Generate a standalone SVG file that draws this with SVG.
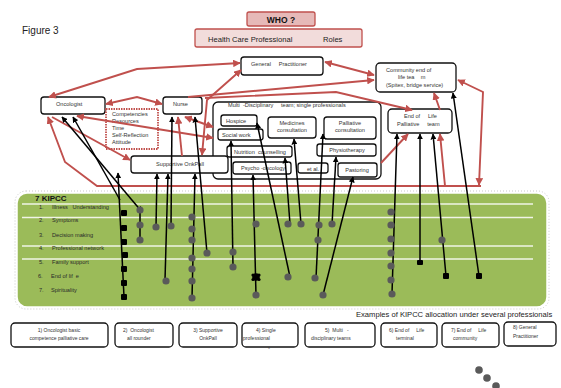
<svg xmlns="http://www.w3.org/2000/svg" width="561" height="388" viewBox="0 0 561 388">
<style>
text{font-family:"Liberation Sans",Arial,sans-serif;fill:#333;white-space:pre}
.s{font-size:5.6px}
.k{font-size:5.6px;fill:#2a2a2a}
.b{fill:#fff;stroke:#111;stroke-width:1.3}
.r{fill:none;stroke:#c0504d;stroke-width:1.9}
.l{fill:none;stroke:#000;stroke-width:1.5}
.d{fill:#5a5a5a}
.q{fill:#000}
.wl{stroke:#fff;stroke-width:1.3;opacity:.85}
</style>
<defs>
<marker id="ra" viewBox="0 0 10 10" refX="9" refY="5" markerWidth="4" markerHeight="4" orient="auto-start-reverse"><path d="M0,0L10,5L0,10z" fill="#c0504d"/></marker>
<marker id="ba" viewBox="0 0 10 10" refX="9" refY="5" markerWidth="4" markerHeight="4" orient="auto-start-reverse"><path d="M0,0L10,5L0,10z" fill="#000"/></marker>
</defs>
<rect width="561" height="388" fill="#fff"/>
<text x="22" y="34" style="font-size:10px;fill:#222">Figure 3</text>

<g id="who"><rect x="247" y="12" width="68" height="14" rx="2" fill="#e6b9b8" stroke="#c0504d" stroke-width="1.3"/><text x="281" y="23" text-anchor="middle" style="font-size:8.5px;font-weight:bold;fill:#111">WHO ?</text></g>
<g id="hcp"><rect x="195" y="29" width="167" height="18" rx="2" fill="#f2dcdb" stroke="#c0504d" stroke-width="1.3"/><text x="208" y="41.5" style="font-size:7.6px;fill:#222">Health Care Professional</text><text x="323" y="41.5" style="font-size:7.6px;fill:#222">Roles</text></g>

<g id="kipcc">
<rect x="15" y="191" width="534" height="118" rx="11" fill="none" stroke="#bbb" stroke-width="0.8" stroke-dasharray="1,2"/>
<rect x="17" y="193" width="530" height="114" rx="10" fill="#9bbb59" stroke="#fff" stroke-width="1.5"/>
<line class="wl" x1="22" y1="204" x2="533" y2="204"/>
<line class="wl" x1="22" y1="217.5" x2="533" y2="217.5"/>
<line class="wl" x1="22" y1="246" x2="533" y2="246"/>
<line class="wl" x1="22" y1="259" x2="533" y2="259"/>
<text x="35" y="201" style="font-size:8px;font-weight:bold;fill:#111">7 KIPCC</text>
<text class="k" x="39" y="209">1.</text><text class="k" x="52" y="209">Illness   Understanding</text>
<text class="k" x="39" y="222">2.</text><text class="k" x="52" y="222">Symptoms</text>
<text class="k" x="39" y="237">3.</text><text class="k" x="52" y="237">Decision making</text>
<text class="k" x="39" y="250">4.</text><text class="k" x="52" y="250">Professional network</text>
<text class="k" x="39" y="264">5.</text><text class="k" x="52" y="264">Family support</text>
<text class="k" x="38" y="278">6.</text><text class="k" x="51" y="278">End of lif  e</text>
<text class="k" x="39" y="292">7.</text><text class="k" x="51" y="292">Spirituality</text>
</g>

<g id="gp"><rect class="b" x="241" y="57" width="82" height="18" rx="3"/><text class="s" x="251" y="66">General     Practitioner</text></g>
<g id="community"><rect class="b" x="376" y="63" width="80" height="29" rx="4"/><text class="s" x="386" y="72">Community end of</text><text class="s" x="398" y="79">life tea    m</text><text class="s" x="386" y="87">(Spitex, bridge service)</text></g>
<g id="oncologist"><rect class="b" x="41" y="97" width="64" height="17" rx="3"/><text class="s" x="56" y="106">Oncologist</text></g>
<g id="competencies"><rect x="106" y="109" width="52" height="40" fill="none" stroke="#c0504d" stroke-width="1.8" stroke-dasharray="1.5,1"/><text class="s" x="112" y="116">Competencies</text><text class="s" x="112" y="123">Resources</text><text class="s" x="112" y="129.5">Time</text><text class="s" x="112" y="137">Self-Reflection</text><text class="s" x="112" y="143.5">Attitude</text></g>
<g id="nurse"><rect class="b" x="163" y="97" width="39" height="17" rx="3"/><text class="s" x="173" y="106">Nurse</text></g>
<g id="multi"><rect class="b" x="213" y="102" width="168" height="77" rx="5"/><text class="s" x="228" y="107">Multi  -Disciplinary</text><text class="s" x="281" y="107">team; single professionals</text></g>
<g id="hospice"><rect class="b" x="221" y="115" width="36" height="11" rx="2.5"/><text class="s" x="226" y="123">Hospice</text></g>
<g id="socialwork"><rect class="b" x="218" y="129" width="45" height="11" rx="2.5"/><text class="s" x="222" y="137">Social work</text></g>
<g id="medicines"><rect class="b" x="268" y="117" width="48" height="21" rx="3"/><text class="s" x="292" y="124.5" text-anchor="middle">Medicines</text><text class="s" x="292" y="131.5" text-anchor="middle">consultation</text></g>
<g id="palliative"><rect class="b" x="324" y="117" width="52" height="22" rx="3"/><text class="s" x="350" y="124.5" text-anchor="middle">Palliative</text><text class="s" x="350" y="131.5" text-anchor="middle">consultation</text></g>
<g id="nutrition"><rect class="b" x="227" y="146" width="65" height="11" rx="2.5"/><text class="s" x="234" y="154">Nutrition  counselling</text></g>
<g id="physio"><rect class="b" x="317" y="144" width="59" height="12" rx="2.5"/><text class="s" x="347" y="152" text-anchor="middle">Physiotherapy</text></g>
<g id="psycho"><rect class="b" x="233" y="162" width="58" height="12" rx="2.5"/><text class="s" x="241" y="170">Psycho -oncology</text></g>
<g id="etal"><rect class="b" x="298" y="163" width="30" height="10" rx="2.5"/><text class="s" x="313" y="170.5" text-anchor="middle">et al.</text></g>
<g id="pastoring"><rect class="b" x="338" y="163" width="39" height="14" rx="2.5"/><text class="s" x="357" y="172" text-anchor="middle">Pastoring</text></g>
<g id="supportive"><rect class="b" x="131" y="156" width="97" height="17" rx="3"/><text class="s" x="180" y="166" text-anchor="middle">Supportive OnkPall</text></g>
<g id="endoflife"><rect class="b" x="388" y="109" width="64" height="24" rx="4"/><text class="s" x="404" y="118">End of     Life</text><text class="s" x="397" y="126">Palliative     team</text></g>

<g id="connectors">
<g class="r">
<polyline points="49,97 137,69 240,63" marker-start="url(#ra)" marker-end="url(#ra)"/>
<polyline points="106,104 137,97 162,104" marker-start="url(#ra)" marker-end="url(#ra)"/>
<polyline points="202,155 207,100 241,70" marker-start="url(#ra)" marker-end="url(#ra)"/>
<line x1="325" y1="62" x2="374" y2="75" marker-start="url(#ra)" marker-end="url(#ra)"/>
<line x1="188" y1="97" x2="374" y2="80" marker-end="url(#ra)"/>
<polyline points="205,98 336,92 412,110" marker-end="url(#ra)"/>
<line x1="440" y1="110" x2="434" y2="93" marker-end="url(#ra)"/>
<polyline points="458,80 483,92 479,185" marker-start="url(#ra)" marker-end="url(#ra)"/>
<polyline points="481,186 97,186 65,162 48,117" marker-end="url(#ra)"/>
<line x1="52" y1="117" x2="130" y2="160" marker-end="url(#ra)"/>
<line x1="77" y1="116" x2="213" y2="138" marker-start="url(#ra)" marker-end="url(#ra)"/>
<line x1="185" y1="117" x2="213" y2="127" marker-start="url(#ra)" marker-end="url(#ra)"/>
<line x1="182" y1="156" x2="178" y2="117" marker-end="url(#ra)"/>
<line x1="381" y1="163" x2="408" y2="134" marker-end="url(#ra)"/>
<line x1="445" y1="186" x2="440" y2="134" marker-end="url(#ra)"/>
</g>
<g class="l">
<line x1="142" y1="212" x2="62" y2="117" marker-start="url(#ba)" marker-end="url(#ba)"/>
<line x1="120" y1="200" x2="73" y2="117" marker-end="url(#ba)"/>
<line x1="124" y1="297" x2="118" y2="173" marker-end="url(#ba)"/>
<line x1="140" y1="212" x2="140" y2="240"/>
<line x1="156" y1="227" x2="157" y2="174" marker-end="url(#ba)"/>
<line x1="165" y1="280" x2="168" y2="174" marker-end="url(#ba)"/>
<line x1="171" y1="226" x2="172" y2="117" marker-end="url(#ba)"/>
<line x1="192" y1="298" x2="195" y2="174" marker-end="url(#ba)"/>
<line x1="207" y1="253" x2="195" y2="117" marker-end="url(#ba)"/>
<line x1="233" y1="267" x2="231" y2="141" marker-end="url(#ba)"/>
<line x1="256" y1="295" x2="253" y2="175" marker-end="url(#ba)"/>
<line x1="290" y1="277" x2="257" y2="123" marker-end="url(#ba)"/>
<line x1="290" y1="224" x2="285" y2="158" marker-end="url(#ba)"/>
<line x1="301" y1="224" x2="294" y2="139" marker-end="url(#ba)"/>
<line x1="316" y1="278" x2="323" y2="134" marker-end="url(#ba)"/>
<line x1="332" y1="224" x2="336" y2="157" marker-end="url(#ba)"/>
<line x1="323" y1="295" x2="353" y2="177" marker-end="url(#ba)"/>
<line x1="392" y1="294" x2="397" y2="134" marker-end="url(#ba)"/>
<line x1="420" y1="263" x2="420" y2="134" marker-end="url(#ba)"/>
<line x1="446" y1="276" x2="433" y2="134" marker-end="url(#ba)"/>
<line x1="479" y1="276" x2="453" y2="93" marker-end="url(#ba)"/>
</g>
</g>

<g id="dots">
<g class="d">
<circle cx="140" cy="210" r="3.6"/><circle cx="140" cy="225" r="3.6"/><circle cx="140" cy="240" r="3.6"/>
<circle cx="156" cy="227" r="3.6"/><circle cx="171" cy="226" r="3.6"/><circle cx="166" cy="281" r="3.6"/>
<circle cx="192" cy="217" r="3.6"/><circle cx="192" cy="229" r="3.6"/><circle cx="192" cy="240" r="3.6"/><circle cx="192" cy="258" r="3.6"/><circle cx="192" cy="269" r="3.6"/><circle cx="192" cy="281" r="3.6"/><circle cx="192" cy="298" r="3.6"/>
<circle cx="207" cy="253" r="3.6"/><circle cx="233" cy="252" r="3.6"/><circle cx="233" cy="267" r="3.6"/>
<circle cx="256" cy="224" r="3.6"/><circle cx="256" cy="295" r="3.6"/>
<circle cx="288" cy="277" r="3.6"/><circle cx="288" cy="224" r="3.6"/><circle cx="301" cy="224" r="3.6"/>
<circle cx="319" cy="225" r="3.6"/><circle cx="318" cy="240" r="3.6"/><circle cx="332" cy="224" r="3.6"/>
<circle cx="315" cy="278" r="3.6"/><circle cx="323" cy="295" r="3.6"/>
<circle cx="391" cy="212" r="3.6"/><circle cx="391" cy="225" r="3.6"/><circle cx="391" cy="239" r="3.6"/><circle cx="391" cy="253" r="3.6"/><circle cx="391" cy="266" r="3.6"/><circle cx="391" cy="280" r="3.6"/><circle cx="392" cy="294" r="3.6"/>
<circle cx="442" cy="240" r="3.6"/>
</g>
<g class="q">
<rect x="121" y="210" width="6" height="6" rx="1"/><rect x="121" y="225" width="6" height="6" rx="1"/><rect x="121" y="239" width="6" height="6" rx="1"/><rect x="122" y="252" width="6" height="6" rx="1"/><rect x="121" y="266" width="6" height="6" rx="1"/><rect x="121" y="280" width="6" height="6" rx="1"/><rect x="121" y="294" width="6" height="6" rx="1"/>
<rect x="417" y="260" width="6" height="5" rx="1"/><rect x="443" y="273" width="6" height="6" rx="1"/><rect x="476" y="273" width="6" height="6" rx="1"/>
<circle cx="256" cy="277" r="3.8"/><circle cx="253" cy="275" r="1.6"/><circle cx="259" cy="275" r="1.6"/><circle cx="253" cy="279.5" r="1.6"/><circle cx="259" cy="279.5" r="1.6"/>
</g>
</g>

<text x="356" y="317" style="font-size:7.6px;fill:#222">Examples of KIPCC allocation under several professionals</text>

<g id="ex1"><rect class="b" x="11" y="323" width="97" height="24" rx="4"/><text class="s" x="59" y="331.5" text-anchor="middle" style="font-size:5px">1) Oncologist basic</text><text class="s" x="59" y="340" text-anchor="middle" style="font-size:5px">competence palliative care</text></g>
<g id="ex2"><rect class="b" x="115" y="323" width="58" height="24" rx="4"/><text class="s" x="123" y="331.5" style="font-size:5px">2)  Oncologist</text><text class="s" x="127" y="340" style="font-size:5px">all rounder</text></g>
<g id="ex3"><rect class="b" x="179" y="323" width="58" height="24" rx="4"/><text class="s" x="208" y="331.5" text-anchor="middle" style="font-size:5px">3) Supportive</text><text class="s" x="208" y="340" text-anchor="middle" style="font-size:5px">OnkPall</text></g>
<g id="ex4"><rect class="b" x="242" y="323" width="56" height="24" rx="4"/><text class="s" x="256" y="331.5" style="font-size:5px">4) Single</text><text class="s" x="243" y="340" style="font-size:5px">professional</text><text class="s" x="268" y="349" style="font-size:3.5px">s</text></g>
<g id="ex5"><rect class="b" x="305" y="323" width="70" height="24" rx="4"/><text class="s" x="325" y="331.5" style="font-size:5px">5)  Multi   -</text><text class="s" x="311" y="340" style="font-size:5px">disciplinary teams</text></g>
<g id="ex6"><rect class="b" x="381" y="323" width="56" height="24" rx="4"/><text class="s" x="389" y="331.5" style="font-size:5px">6) End of     Life</text><text class="s" x="396" y="340" style="font-size:5px">terminal</text></g>
<g id="ex7"><rect class="b" x="442" y="323" width="57" height="24" rx="4"/><text class="s" x="451" y="331.5" style="font-size:5px">7) End of     Life</text><text class="s" x="453" y="340" style="font-size:5px">community</text></g>
<g id="ex8"><rect class="b" x="504" y="322" width="52" height="24" rx="4"/><text class="s" x="513" y="329" style="font-size:5px">8) General</text><text class="s" x="513" y="338" style="font-size:5px">Practitioner</text></g>

<g class="d"><circle cx="479" cy="370" r="3.8"/><circle cx="487" cy="378" r="3.8"/><circle cx="496" cy="386" r="3.8"/></g>
</svg>
